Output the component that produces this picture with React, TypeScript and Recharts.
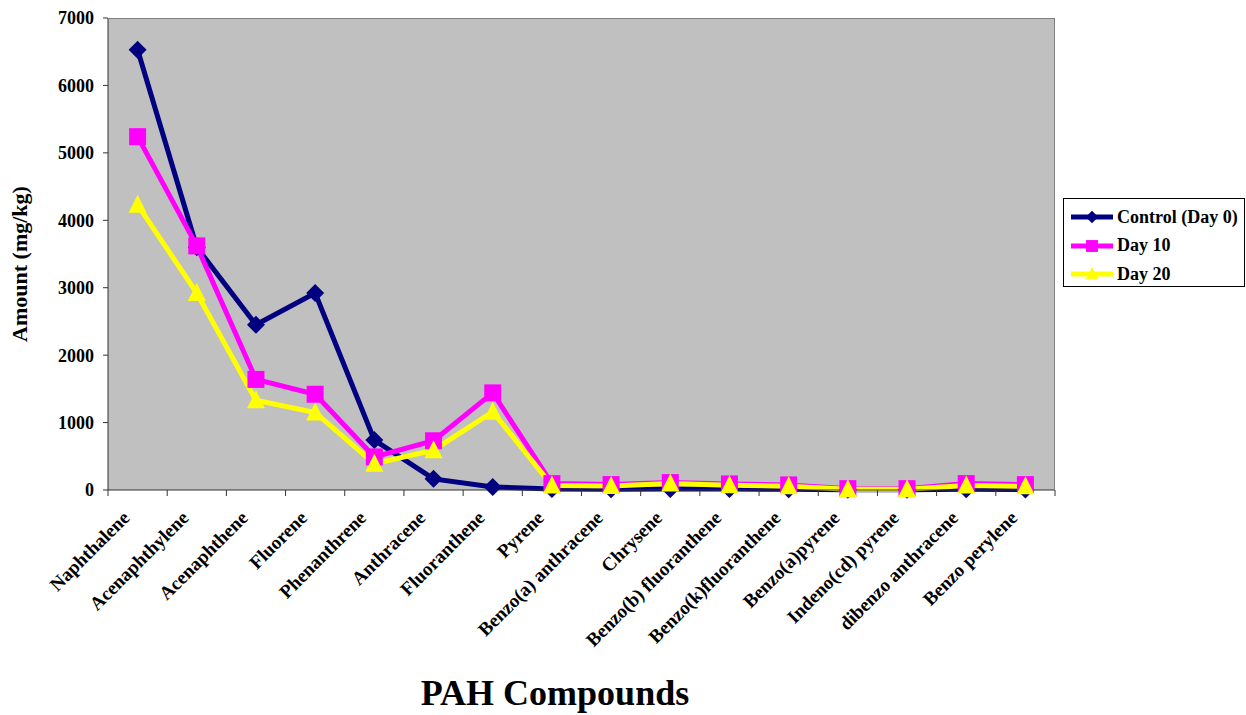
import { CartesianGrid, Legend, Line, LineChart, XAxis, YAxis } from "recharts";

const compounds = [
    "Naphthalene",
    "Acenaphthylene",
    "Acenaphthene",
    "Fluorene",
    "Phenanthrene",
    "Anthracene",
    "Fluoranthene",
    "Pyrene",
    "Benzo(a) anthracene",
    "Chrysene",
    "Benzo(b) fluoranthene",
    "Benzo(k)fluoranthene",
    "Benzo(a)pyrene",
    "Indeno(cd) pyrene",
    "dibenzo anthracene",
    "Benzo perylene",
];

// mg/kg
const controlDay0 = [6530, 3600, 2450, 2920, 740, 165, 45, 15, 10, 15, 15, 10, 5, 5, 10, 8];
const day10 = [5240, 3620, 1640, 1420, 490, 730, 1440, 95, 80, 110, 90, 75, 20, 20, 95, 80];
const day20 = [4230, 2920, 1330, 1150, 390, 590, 1160, 65, 60, 95, 70, 55, 10, 10, 65, 55];

const yTicks = [0, 1000, 2000, 3000, 4000, 5000, 6000, 7000];

const data = compounds.map((name, i) => ({
    name,
    control: controlDay0[i],
    day10: day10[i],
    day20: day20[i],
}));

type Shape = "diamond" | "square" | "triangle";

const series: { key: string; name: string; color: string; shape: Shape }[] = [
    { key: "control", name: "Control (Day 0)", color: "#000080", shape: "diamond" },
    { key: "day10", name: "Day 10", color: "#FF00FF", shape: "square" },
    { key: "day20", name: "Day 20", color: "#FFFF00", shape: "triangle" },
];

const FONT = '"Liberation Serif", "Times New Roman", serif';
const W = 1246;
const H = 715;
const M = { top: 18, right: 191, bottom: 0, left: 0 };
const Y_AXIS_W = 108;
const X_AXIS_H = 225;
const PLOT_W = W - M.right - M.left - Y_AXIS_W;
const HALF_BAND = PLOT_W / compounds.length / 2;

function Marker({ cx, cy, shape, color, scale = 1 }: { cx?: number; cy?: number; shape: Shape; color: string; scale?: number }) {
    if (cx == null || cy == null) return null;
    if (shape === "diamond") {
        const r = 9 * scale;
        return <polygon points={`${cx},${cy - r} ${cx + r},${cy} ${cx},${cy + r} ${cx - r},${cy}`} fill={color} />;
    }
    if (shape === "square") {
        const s = 17 * scale;
        return <rect x={cx - s / 2} y={cy - s / 2} width={s} height={s} fill={color} />;
    }
    const w = 9 * scale;
    return <polygon points={`${cx},${cy - 10 * scale} ${cx + w},${cy + 8 * scale} ${cx - w},${cy + 8 * scale}`} fill={color} />;
}

function CompoundTick(props: any) {
    const { x, y, payload, index } = props;
    const last = index === compounds.length - 1;
    return (
        <g>
            <line x1={x - HALF_BAND} x2={x - HALF_BAND} y1={y} y2={y + 6} stroke="#333" />
            {last && <line x1={x + HALF_BAND} x2={x + HALF_BAND} y1={y} y2={y + 6} stroke="#333" />}
            <text
                x={x - 7}
                y={y + 29}
                transform={`rotate(-45, ${x - 7}, ${y + 29})`}
                textAnchor="end"
                fontFamily={FONT}
                fontWeight="bold"
                fontSize={19}
                fill="#000"
            >
                {payload.value}
            </text>
        </g>
    );
}

function LegendBox() {
    return (
        <div
            style={{
                border: "1px solid #000",
                background: "#fff",
                boxSizing: "border-box",
                width: 182,
                height: 89,
                padding: "4px 0 0 7px",
                fontFamily: FONT,
                fontWeight: "bold",
                fontSize: 18,
                whiteSpace: "nowrap",
            }}
        >
            {series.map((s) => (
                <div key={s.key} style={{ display: "flex", alignItems: "center", height: 28.5 }}>
                    <svg width={42} height={20} style={{ marginRight: 4, flexShrink: 0 }}>
                        <line x1={0} x2={42} y1={10} y2={10} stroke={s.color} strokeWidth={5} />
                        <Marker cx={21} cy={10} shape={s.shape} color={s.color} scale={0.7} />
                    </svg>
                    <span>{s.name}</span>
                </div>
            ))}
        </div>
    );
}

export default function App() {
    return (
        <div style={{ position: "absolute", left: 0, top: 0, width: W, height: H, background: "#fff" }}>
            <LineChart width={W} height={H} data={data} margin={M}>
                <CartesianGrid fill="#C0C0C0" horizontal={false} vertical={false} />
                <XAxis
                    dataKey="name"
                    interval={0}
                    height={X_AXIS_H}
                    padding={{ left: HALF_BAND, right: HALF_BAND }}
                    tickLine={false}
                    tickSize={0}
                    tickMargin={0}
                    stroke="#333"
                    tick={<CompoundTick />}
                    label={() => (
                        <text x={555} y={705} textAnchor="middle" fontFamily={FONT} fontWeight="bold" fontSize={36} fill="#000">
                            PAH Compounds
                        </text>
                    )}
                />
                <YAxis
                    width={Y_AXIS_W}
                    domain={[0, 7000]}
                    ticks={yTicks}
                    interval={0}
                    tickSize={5}
                    tickMargin={9}
                    stroke="#333"
                    tick={{ fontFamily: FONT, fontWeight: "bold", fontSize: 18, fill: "#000" }}
                    label={() => (
                        <text
                            x={27}
                            y={264}
                            transform="rotate(-90, 27, 264)"
                            textAnchor="middle"
                            fontFamily={FONT}
                            fontWeight="bold"
                            fontSize={22}
                            fill="#000"
                        >
                            Amount (mg/kg)
                        </text>
                    )}
                />
                <Legend
                    layout="horizontal"
                    align="center"
                    verticalAlign="middle"
                    wrapperStyle={{ left: 1063, top: 198, width: 182, height: 89 }}
                    content={() => <LegendBox />}
                />
                {series.map((s) => (
                    <Line
                        key={s.key}
                        type="linear"
                        dataKey={s.key}
                        name={s.name}
                        stroke={s.color}
                        strokeWidth={5}
                        isAnimationActive={false}
                        activeDot={false}
                        dot={(p: any) => <Marker key={`${s.key}-${p.index}`} cx={p.cx} cy={p.cy} shape={s.shape} color={s.color} />}
                    />
                ))}
            </LineChart>
            <div
                style={{
                    position: "absolute",
                    left: M.left + Y_AXIS_W,
                    top: M.top,
                    width: PLOT_W,
                    height: H - M.top - X_AXIS_H,
                    borderTop: "1px solid #808080",
                    borderRight: "1px solid #808080",
                    boxSizing: "border-box",
                    pointerEvents: "none",
                }}
            />
        </div>
    );
}
